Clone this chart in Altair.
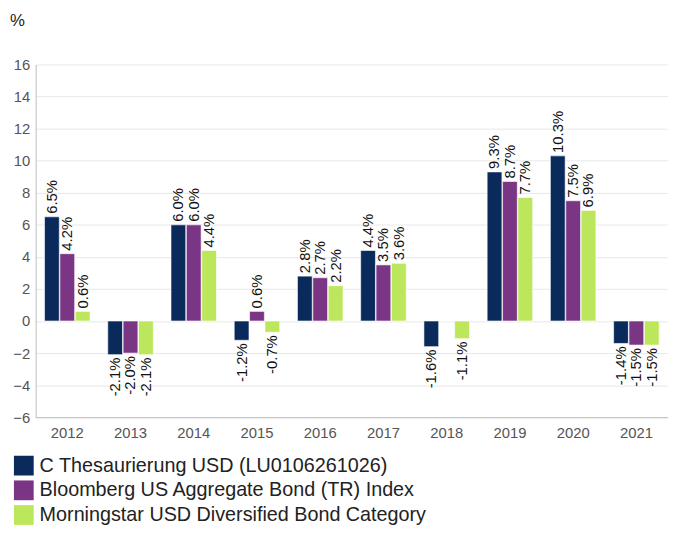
import altair as alt
import pandas as pd

years = ["2012", "2013", "2014", "2015", "2016", "2017", "2018", "2019", "2020", "2021"]
series = [
    "C Thesaurierung USD (LU0106261026)",
    "Bloomberg US Aggregate Bond (TR) Index",
    "Morningstar USD Diversified Bond Category",
]
fund = [6.5, -2.1, 6.0, -1.2, 2.8, 4.4, -1.6, 9.3, 10.3, -1.4]
index_ = [4.2, -2.0, 6.0, 0.6, 2.7, 3.5, 0.0, 8.7, 7.5, -1.5]
category = [0.6, -2.1, 4.4, -0.7, 2.2, 3.6, -1.1, 7.7, 6.9, -1.5]
hide_label = [("2018", series[1])]
colors = ["#0b2a5c", "#7b3585", "#bce75c"]

rows = []
for vals, s in zip([fund, index_, category], series):
    for y, v in zip(years, vals):
        lbl = "" if (y, s) in hide_label else f"{v:.1f}%"
        rows.append({"year": y, "series": s, "value": v, "label": lbl})
df = pd.DataFrame(rows)

FONT = "Liberation Sans"

x = alt.X("year:N", sort=years, title=None,
          scale=alt.Scale(paddingInner=0.28, paddingOuter=0.14),
          axis=alt.Axis(labelAngle=0, labelFontSize=15, labelColor="#555555", labelFont=FONT,
                        ticks=False, domainColor="#bdbdbd", labelPadding=9, grid=False))
xo = alt.XOffset("series:N", sort=series, scale=alt.Scale(paddingInner=0.04))
y = alt.Y("value:Q", title=None,
          scale=alt.Scale(domain=[-6, 16], nice=False),
          axis=alt.Axis(values=list(range(-6, 17, 2)), labelFontSize=15, labelColor="#555555",
                        labelFont=FONT, ticks=False, domainColor="#bdbdbd", gridColor="#e8e8e8",
                        labelPadding=6))

base = alt.Chart(df)

bars = base.mark_bar(stroke="white", strokeWidth=0.6).encode(
    x=x, xOffset=xo, y=y, y2=alt.datum(0),
    color=alt.Color("series:N", sort=series,
                    scale=alt.Scale(domain=series, range=colors),
                    legend=alt.Legend(title=None, orient="none", legendX=-22, legendY=396,
                                      symbolType="square", symbolSize=400,
                                      symbolStrokeWidth=0,
                                      labelFontSize=20, labelFont=FONT, labelColor="#222222",
                                      labelOffset=6, rowPadding=5, labelLimit=640)),
)

pos = base.transform_filter("datum.value >= 0").mark_text(
    angle=270, align="left", baseline="middle", dx=3, fontSize=15, font=FONT, color="#111111"
).encode(x=x, xOffset=xo, y=y, text="label:N")

neg = base.transform_filter("datum.value < 0").mark_text(
    angle=270, align="right", baseline="middle", dx=-3, fontSize=15, font=FONT, color="#111111"
).encode(x=x, xOffset=xo, y=y, text="label:N")

unit = alt.Chart(pd.DataFrame({"t": ["%"]})).mark_text(
    align="left", baseline="middle", fontSize=17, font=FONT, color="#222222"
).encode(x=alt.value(-26), y=alt.value(-44), text="t:N")

chart = alt.layer(bars, pos, neg, unit).properties(
    width=640, height=357,
    autosize=alt.AutoSizeParams(type="none"),
    padding={"left": 28, "top": 54, "right": 0, "bottom": 112},
).configure_view(stroke=None)

chart.save("out.html", embed_options={"renderer": "svg", "actions": False})
